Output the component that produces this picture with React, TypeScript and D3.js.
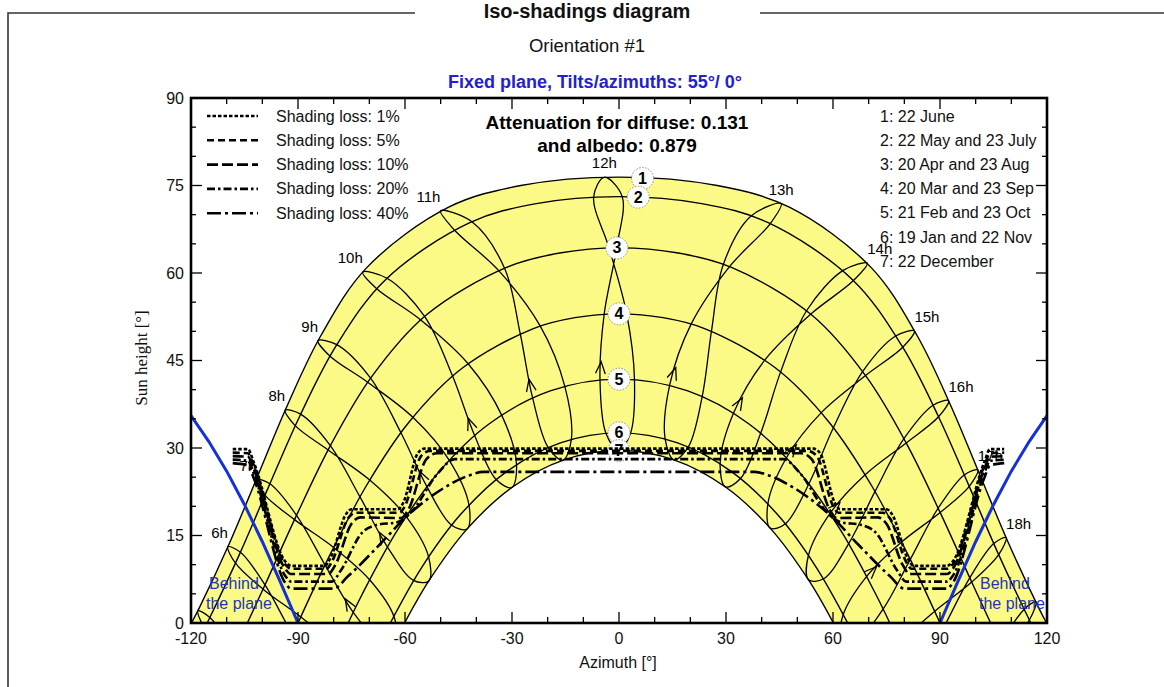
import React from 'react';
import * as d3 from 'd3';

type Pt = [number, number];
type MPt = Pt | null;

// ---------- axes ----------
const X_TICKS = [-120, -90, -60, -30, 0, 30, 60, 90, 120];
const Y_TICKS = [0, 15, 30, 45, 60, 75, 90];
const X_MINOR = [-110, -100, -80, -70, -50, -40, -20, -10, 10, 20, 40, 50, 70, 80, 100, 110];
const Y_MINOR = [5, 10, 20, 25, 35, 40, 50, 55, 65, 70, 80, 85];

// ---------- sun paths (azimuth, height) ----------
const path1: Pt[] = [[-119.87, 0], [-117.47, 2.85], [-109.1, 13.85], [-101.16, 25.4], [-93.0, 37.29], [-83.61, 49.24], [-70.72, 60.92], [-47.76, 71.28], [-27.53, 74.99], [0, 76.44], [27.53, 74.99], [47.76, 71.28], [70.72, 60.92], [83.61, 49.24], [93.0, 37.29], [101.16, 25.4], [109.1, 13.85], [117.47, 2.85], [119.87, 0]];
const path2: Pt[] = [[-115.48, 0], [-114.88, 0.73], [-106.29, 11.93], [-98.04, 23.64], [-89.42, 35.58], [-79.33, 47.49], [-65.39, 58.9], [-41.83, 68.63], [-23.21, 71.9], [0, 73.1], [23.21, 71.9], [41.83, 68.63], [65.39, 58.9], [79.33, 47.49], [89.42, 35.58], [98.04, 23.64], [106.29, 11.93], [114.88, 0.73], [115.48, 0]];
const path3: Pt[] = [[-104.2, 0], [-99.07, 6.77], [-90.23, 18.7], [-80.73, 30.63], [-69.39, 42.19], [-54.13, 52.76], [-31.54, 60.96], [-16.63, 63.42], [0, 64.3], [16.63, 63.42], [31.54, 60.96], [54.13, 52.76], [69.39, 42.19], [80.73, 30.63], [90.23, 18.7], [99.07, 6.77], [104.2, 0]];
const path4: Pt[] = [[-90, 0], [-80.84, 11.93], [-70.84, 23.53], [-58.96, 34.38], [-43.81, 43.75], [-24.0, 50.48], [-12.34, 52.35], [0, 53.0], [12.34, 52.35], [24.0, 50.48], [43.81, 43.75], [58.96, 34.38], [70.84, 23.53], [80.84, 11.93], [90, 0]];
const path5: Pt[] = [[-75.93, 0], [-72.0, 4.93], [-62.08, 15.95], [-50.46, 25.92], [-36.36, 34.16], [-19.29, 39.78], [0, 41.8], [19.29, 39.78], [36.36, 34.16], [50.46, 25.92], [62.08, 15.95], [72.0, 4.93], [75.93, 0]];
const path6: Pt[] = [[-64.12, 0], [-55.38, 9.47], [-44.38, 18.63], [-31.43, 26.0], [-16.42, 30.88], [0, 32.6], [16.42, 30.88], [31.43, 26.0], [44.38, 18.63], [55.38, 9.47], [64.12, 0]];
const path7: Pt[] = [[-60.12, 0], [-53.23, 7.3], [-42.5, 16.18], [-29.96, 23.27], [-15.59, 27.93], [0, 29.56], [15.59, 27.93], [29.96, 23.27], [42.5, 16.18], [53.23, 7.3], [60.12, 0]];

// ---------- hour loops: Jun, Jul, Aug, Sep, Oct, Nov, Dec, Jan, Feb, Mar, Apr, May ----------
const loop5: MPt[] = [[-118.06, 2.08], [-116.14, -0.91], [-108.82, -5.83], null, null, null, null, null, null, null, [-108.26, -5.1], [-114.72, 0.94]];
const loop6: MPt[] = [[-109.67, 13.06], [-107.52, 10.25], [-99.8, 5.8], [-89.21, 1.03], [-78.96, -4.22], [-71.7, -9.9], [-70.9, -13.9], [-75.4, -14.6], [-83.4, -9.8], [-91.53, -1.99], [-99.25, 6.53], [-106.13, 12.14]];
const loop7: MPt[] = [[-101.72, 24.58], [-99.28, 21.91], [-90.98, 17.72], [-80.01, 12.95], [-69.92, 7.42], [-63.08, 1.08], [-62.63, -2.95], [-66.9, -3.2], [-74.55, 1.87], [-82.44, 9.97], [-90.41, 18.46], [-97.88, 23.86]];
const loop8: MPt[] = [[-93.61, 36.46], [-90.79, 33.83], [-81.58, 29.67], [-69.89, 24.5], [-59.71, 18.26], [-53.4, 11.36], [-53.33, 7.2], [-57.63, 7.32], [-64.99, 13.11], [-72.66, 21.66], [-80.94, 30.4], [-89.25, 35.8]];
const loop9: MPt[] = [[-84.39, 48.41], [-81.09, 45.78], [-70.48, 41.28], [-57.79, 35.26], [-47.63, 27.92], [-42.07, 20.23], [-42.62, 16.1], [-47.01, 16.81], [-53.93, 23.46], [-61.21, 32.69], [-69.66, 41.97], [-79.11, 47.71]];
const loop10: MPt[] = [[-71.85, 60.15], [-68.0, 57.35], [-55.68, 51.99], [-42.3, 44.45], [-32.93, 35.68], [-28.73, 27.18], [-30.09, 23.21], [-34.51, 24.65], [-40.57, 32.29], [-46.72, 42.41], [-54.51, 52.57], [-65.04, 59.1]];
const loop11: MPt[] = [[-50.06, 70.66], [-46.3, 67.46], [-33.79, 60.45], [-22.07, 50.9], [-15.23, 40.65], [-13.35, 31.53], [-15.74, 27.9], [-19.92, 30.14], [-24.27, 38.71], [-27.72, 49.67], [-32.09, 60.83], [-41.24, 68.78]];
const loop12: MPt[] = [[-4.11, 76.41], [-7.11, 72.99], [-2.78, 64.28], [2.16, 52.98], [4.34, 41.7], [3.23, 32.53], [-0.16, 29.56], [-3.67, 32.51], [-5.33, 41.65], [-4.16, 52.93], [-0.68, 64.3], [0.9, 73.1]];
const loop13: MPt[] = [[45.46, 71.9], [36.94, 69.72], [29.25, 61.47], [25.93, 50.06], [23.35, 38.91], [19.49, 30.23], [15.44, 27.96], [12.92, 31.62], [14.23, 40.85], [20.22, 51.23], [30.99, 61.09], [42.42, 68.48]];
const loop14: MPt[] = [[69.59, 61.69], [62.85, 60.45], [52.58, 53.53], [45.32, 43.05], [39.79, 32.64], [34.13, 24.82], [29.83, 23.33], [28.35, 27.35], [32.15, 36.03], [40.9, 45.09], [53.75, 52.95], [65.74, 58.7]];
const loop15: MPt[] = [[82.83, 50.07], [77.57, 49.2], [68.3, 43.1], [60.13, 33.5], [53.29, 23.92], [46.69, 17.03], [42.38, 16.26], [41.75, 20.45], [46.99, 28.38], [56.71, 36.07], [69.12, 42.41], [79.55, 47.27]];
const loop16: MPt[] = [[92.39, 38.12], [88.05, 37.33], [79.88, 31.59], [71.79, 22.56], [64.45, 13.64], [57.36, 7.58], [53.13, 7.4], [53.13, 11.62], [59.17, 18.79], [69.02, 25.4], [80.52, 30.86], [89.59, 35.36]];
const loop17: MPt[] = [[100.6, 26.22], [96.8, 25.37], [89.48, 19.68], [81.67, 10.91], [74.08, 2.44], [66.68, -2.92], [62.43, -2.75], [62.83, 1.36], [69.45, 7.99], [79.24, 13.89], [90.05, 18.94], [98.2, 23.42]];
const loop18: MPt[] = [[108.53, 14.64], [105.06, 13.61], [98.34, 7.74], [90.79, -1.03], [82.96, -9.2], [75.2, -14.3], [70.8, -13.8], [71.5, -9.6], [78.55, -3.65], [88.47, 1.99], [98.89, 7.01], [106.45, 11.72]];
const loop19: MPt[] = [[116.88, 3.62], [113.62, 2.37], [107.34, -3.89], null, null, null, null, null, null, null, [107.9, -4.62], [115.04, 0.52]];

const HOURS = [5, 6, 7, 8, 9, 10, 11, 12, 13, 14, 15, 16, 17, 18, 19];
const LOOPS = [loop5, loop6, loop7, loop8, loop9, loop10, loop11, loop12, loop13, loop14, loop15, loop16, loop17, loop18, loop19];
const LABELLED_HOURS = [6, 7, 8, 9, 10, 11, 12, 13, 14, 15, 16, 17, 18];

// ---------- date labels (azimuth, height) ----------
const DATE_LABEL_POS: Pt[] = [[6.6, 76.2], [5.4, 73.0], [-0.6, 64.3], [0, 53.0], [0, 41.8], [0, 32.6], [0, 29.56]];

// ---------- "behind the plane" limit (azimuth, height) ----------
const behindLeft: Pt[] = [[-120, 35.54], [-115, 31.11], [-110, 26.03], [-105, 20.28], [-100, 13.93], [-95, 7.1], [-90, 0]];
const behindRight: Pt[] = [[90, 0], [95, 7.1], [100, 13.93], [105, 20.28], [110, 26.03], [115, 31.11], [120, 35.54]];

// ---------- iso-shading curves (azimuth, height) ----------
const shade1: Pt[] = [[-108.3, 29.8], [-104.0, 29.8], [-102.5, 27.7], [-93.5, 10.5], [-92.0, 9.8], [-82.5, 9.8], [-81.0, 11.0], [-76.5, 18.7], [-75.0, 19.5], [-62.0, 19.5], [-60.5, 20.6], [-56.5, 29.0], [-54.5, 29.9], [54.5, 29.9], [56.5, 29.0], [60.5, 20.6], [62.0, 19.5], [75.0, 19.5], [76.5, 18.7], [81.0, 11.0], [82.5, 9.8], [92.0, 9.8], [93.5, 10.5], [102.5, 27.7], [104.0, 29.8], [108.0, 29.8]];
const shade5: Pt[] = [[-108.3, 29.2], [-104.0, 29.1], [-102.5, 27.1], [-93.5, 10.0], [-92.0, 9.3], [-82.0, 9.3], [-80.5, 10.5], [-76.0, 17.9], [-74.0, 18.9], [-61.5, 18.9], [-60.0, 20.1], [-55.5, 28.6], [-53.0, 29.5], [53.0, 29.5], [55.5, 28.6], [60.0, 20.1], [61.5, 18.9], [74.0, 18.9], [76.0, 17.9], [80.5, 10.5], [82.0, 9.3], [92.0, 9.3], [93.5, 10.0], [102.5, 27.1], [104.0, 29.1], [108.0, 29.2]];
const shade10: Pt[] = [[-108.3, 28.6], [-104.0, 28.5], [-102.5, 26.5], [-93.5, 9.2], [-92.0, 8.4], [-81.5, 8.4], [-79.5, 10.0], [-75.0, 17.0], [-72.5, 18.1], [-61.0, 18.0], [-59.0, 19.5], [-54.0, 28.1], [-51.0, 29.1], [51.0, 29.1], [54.0, 28.1], [59.0, 19.5], [61.0, 18.0], [72.5, 18.1], [75.0, 17.0], [79.5, 10.0], [81.5, 8.4], [92.0, 8.4], [93.5, 9.2], [102.5, 26.5], [104.0, 28.5], [108.0, 28.6]];
const shade20: Pt[] = [[-108.3, 28.0], [-104.0, 27.8], [-102.5, 25.8], [-93.5, 8.0], [-92.0, 7.1], [-80.5, 7.1], [-78.0, 9.0], [-72.0, 15.5], [-68.0, 16.8], [-62.0, 17.3], [-58.0, 19.2], [-51.0, 25.5], [-46.0, 28.1], [46.0, 28.1], [51.0, 25.5], [58.0, 19.2], [62.0, 17.3], [68.0, 16.8], [72.0, 15.5], [78.0, 9.0], [80.5, 7.1], [92.0, 7.1], [93.5, 8.0], [102.5, 25.8], [104.0, 27.8], [108.0, 28.0]];
const shade40: Pt[] = [[-108.3, 27.4], [-104.0, 27.0], [-102.5, 25.0], [-93.5, 6.8], [-92.0, 5.9], [-80.0, 5.9], [-76.0, 8.0], [-67.0, 13.5], [-60.0, 18.0], [-50.0, 22.8], [-42.0, 25.3], [-38.0, 25.9], [38.0, 25.9], [42.0, 25.3], [50.0, 22.8], [60.0, 18.0], [67.0, 13.5], [76.0, 8.0], [80.0, 5.9], [92.0, 5.9], [93.5, 6.8], [102.5, 25.0], [104.0, 27.0], [108.0, 27.4]];

const SHADE_CURVES = [shade1, shade5, shade10, shade20, shade40];
const SHADE_LABELS = ['Shading loss: 1%', 'Shading loss: 5%', 'Shading loss: 10%', 'Shading loss: 20%', 'Shading loss: 40%'];
const SHADE_DASH = ['3.5 2', '7 4', '11 4', '8 3 2.5 3', '14 4 3 4'];

const DATE_LEGEND = ['1: 22 June', '2: 22 May and 23 July', '3: 20 Apr and 23 Aug', '4: 20 Mar and 23 Sep', '5: 21 Feb and 23 Oct', '6: 19 Jan and 22 Nov', '7: 22 December'];
const DATE_PATHS = [path1, path2, path3, path4, path5, path6, path7];

const SANS = "'Liberation Sans', Arial, Helvetica, sans-serif";
const SERIF = "'Liberation Serif', 'Times New Roman', serif";

export default function App() {
  const L = 191, R = 1047, T = 98, B = 623;
  const x = d3.scaleLinear().domain([-120, 120]).range([L, R]);
  const y = d3.scaleLinear().domain([0, 90]).range([B, T]);

  const lineCR = d3.line<Pt>().x(d => x(d[0])).y(d => y(d[1])).curve(d3.curveCatmullRom.alpha(0.5));
  const lineClosed = d3.line<Pt>().x(d => x(d[0])).y(d => y(d[1])).curve(d3.curveCatmullRomClosed.alpha(0.5));
  const lineMono = d3.line<Pt>().x(d => x(d[0])).y(d => y(d[1])).curve(d3.curveMonotoneX);
  const lineLin = d3.line<Pt>().x(d => x(d[0])).y(d => y(d[1]));

  const outer = lineCR(path1) as string;
  const inner = lineCR([...path7].reverse()) as string;
  const yellow = outer + 'L' + inner.slice(1) + 'Z';

  // arrows on Feb -> Mar branch
  const arrows: string[] = [];
  LOOPS.forEach(lp => {
    const feb = lp[8], mar = lp[9];
    if (!feb || !mar || feb[1] <= 0) return;
    const fx = x(feb[0]), fy = y(feb[1]), mx = x(mar[0]), my = y(mar[1]);
    const t = 0.28;
    const tx = fx + t * (mx - fx), ty = fy + t * (my - fy);
    const len = Math.hypot(mx - fx, my - fy);
    const ux = (mx - fx) / len, uy = (my - fy) / len;
    const a = (22 * Math.PI) / 180, s = 13;
    const p1x = tx - s * (ux * Math.cos(a) - uy * Math.sin(a));
    const p1y = ty - s * (ux * Math.sin(a) + uy * Math.cos(a));
    const p2x = tx - s * (ux * Math.cos(-a) - uy * Math.sin(-a));
    const p2y = ty - s * (ux * Math.sin(-a) + uy * Math.cos(-a));
    arrows.push(`M${p1x},${p1y}L${tx},${ty}L${p2x},${p2y}`);
  });

  return (
    <svg width={1164} height={687} style={{ position: 'absolute', left: 0, top: 0, background: '#fff' }}>
      <defs>
        <clipPath id="plotclip">
          <rect x={L} y={T} width={R - L} height={B - T} />
        </clipPath>
      </defs>

      {/* page frame */}
      <path d="M415,13H8V700" fill="none" stroke="#333" strokeWidth={1.6} />
      <path d="M760,13H1164" fill="none" stroke="#333" strokeWidth={1.6} />

      {/* titles */}
      <text x={587} y={18} textAnchor="middle" fontFamily={SANS} fontWeight="bold" fontSize={20} fill="#111">Iso-shadings diagram</text>
      <text x={587} y={52} textAnchor="middle" fontFamily={SANS} fontSize={18.5} fill="#111">Orientation #1</text>
      <text x={595} y={88} textAnchor="middle" fontFamily={SANS} fontWeight="bold" fontSize={18} fill="#2222cc">Fixed plane, Tilts/azimuths: 55°/ 0°</text>

      <g clipPath="url(#plotclip)">
        <path d={yellow} fill="#fcfa86" stroke="none" />
        {DATE_PATHS.map((p, i) => (
          <path key={'dp' + i} d={lineCR(p) as string} fill="none" stroke="#000" strokeWidth={1.4} />
        ))}
        {LOOPS.map((lp, i) => (
          <path key={'hl' + i} d={lineClosed(lp.filter(Boolean) as Pt[]) as string} fill="none" stroke="#000" strokeWidth={1.3} />
        ))}
        {arrows.map((d, i) => (
          <path key={'ar' + i} d={d} fill="none" stroke="#000" strokeWidth={1.3} />
        ))}
        {DATE_LABEL_POS.map((p, i) => (
          <g key={'dl' + i}>
            <circle cx={x(p[0])} cy={y(p[1])} r={11} fill="#fff" stroke="#888" strokeWidth={1} strokeDasharray="1.5 1.5" />
            <text x={x(p[0])} y={y(p[1]) + 5.5} textAnchor="middle" fontFamily={SANS} fontWeight="bold" fontSize={16} fill="#000">{i + 1}</text>
          </g>
        ))}
        <path d={lineLin(behindLeft) as string} fill="none" stroke="#1430d8" strokeWidth={3} />
        <path d={lineLin(behindRight) as string} fill="none" stroke="#1430d8" strokeWidth={3} />
        {SHADE_CURVES.map((c, i) => (
          <path key={'sc' + i} d={lineMono(c) as string} fill="none" stroke="#000" strokeWidth={2.6} strokeDasharray={SHADE_DASH[i]} />
        ))}
      </g>

      {/* behind the plane texts */}
      <g fontFamily={SANS} fontSize={16} fill="#2233bb">
        <text x={209} y={589}>Behind</text>
        <text x={206} y={609}>the plane</text>
        <text x={980} y={589}>Behind</text>
        <text x={979} y={609}>the plane</text>
      </g>

      {/* hour labels */}
      {HOURS.map((hr, i) => {
        if (!LABELLED_HOURS.includes(hr)) return null;
        const p = LOOPS[i][0] as Pt;
        const anchor = p[0] < -48 ? 'end' : p[0] > 48 ? 'start' : 'middle';
        return (
          <text key={'hlab' + hr} x={x(p[0])} y={y(p[1]) - 9} textAnchor={anchor} fontFamily={SANS} fontSize={15} fill="#000">{hr}h</text>
        );
      })}

      {/* legends */}
      {SHADE_LABELS.map((s, i) => {
        const yy = 116 + i * 24.3;
        return (
          <g key={'lg' + i}>
            <line x1={207} x2={258} y1={yy} y2={yy} stroke="#000" strokeWidth={2.6} strokeDasharray={SHADE_DASH[i]} />
            <text x={276} y={yy + 5.5} fontFamily={SANS} fontSize={16} fill="#111">{s}</text>
          </g>
        );
      })}
      {DATE_LEGEND.map((s, i) => (
        <text key={'dlg' + i} x={880} y={116 + i * 24.2 + 5.5} fontFamily={SANS} fontSize={16} fill="#111">{s}</text>
      ))}
      <text x={617} y={129} textAnchor="middle" fontFamily={SANS} fontWeight="bold" fontSize={19} fill="#000">Attenuation for diffuse: 0.131</text>
      <text x={617} y={152} textAnchor="middle" fontFamily={SANS} fontWeight="bold" fontSize={19} fill="#000">and albedo: 0.879</text>

      {/* ticks */}
      <g stroke="#000" strokeWidth={1.3}>
        {Y_TICKS.map(t => (
          <g key={'yt' + t}>
            <line x1={L} x2={L + 11} y1={y(t)} y2={y(t)} />
            <line x1={R} x2={R - 11} y1={y(t)} y2={y(t)} />
          </g>
        ))}
        {Y_MINOR.map(t => (
          <g key={'ym' + t}>
            <line x1={L} x2={L + 5} y1={y(t)} y2={y(t)} />
            <line x1={R} x2={R - 5} y1={y(t)} y2={y(t)} />
          </g>
        ))}
        {X_TICKS.map(t => (
          <g key={'xt' + t}>
            <line x1={x(t)} x2={x(t)} y1={B} y2={B - 11} />
            <line x1={x(t)} x2={x(t)} y1={T} y2={T + 11} />
          </g>
        ))}
        {X_MINOR.map(t => (
          <g key={'xm' + t}>
            <line x1={x(t)} x2={x(t)} y1={B} y2={B - 6} />
            <line x1={x(t)} x2={x(t)} y1={T} y2={T + 6} />
          </g>
        ))}
      </g>
      <rect x={L} y={T} width={R - L} height={B - T} fill="none" stroke="#000" strokeWidth={2.6} />

      {/* tick labels */}
      {Y_TICKS.map(t => (
        <text key={'yl' + t} x={184} y={y(t) + 5.5} textAnchor="end" fontFamily={SANS} fontSize={16} fill="#111">{t}</text>
      ))}
      {X_TICKS.map(t => (
        <text key={'xl' + t} x={x(t)} y={644} textAnchor="middle" fontFamily={SANS} fontSize={16} fill="#111">{t}</text>
      ))}
      <text x={618} y={668} textAnchor="middle" fontFamily={SANS} fontSize={16} fill="#111">Azimuth [°]</text>
      <text transform="translate(147,358) rotate(-90)" textAnchor="middle" fontFamily={SERIF} fontSize={17} fill="#111">Sun height [°]</text>
    </svg>
  );
}
